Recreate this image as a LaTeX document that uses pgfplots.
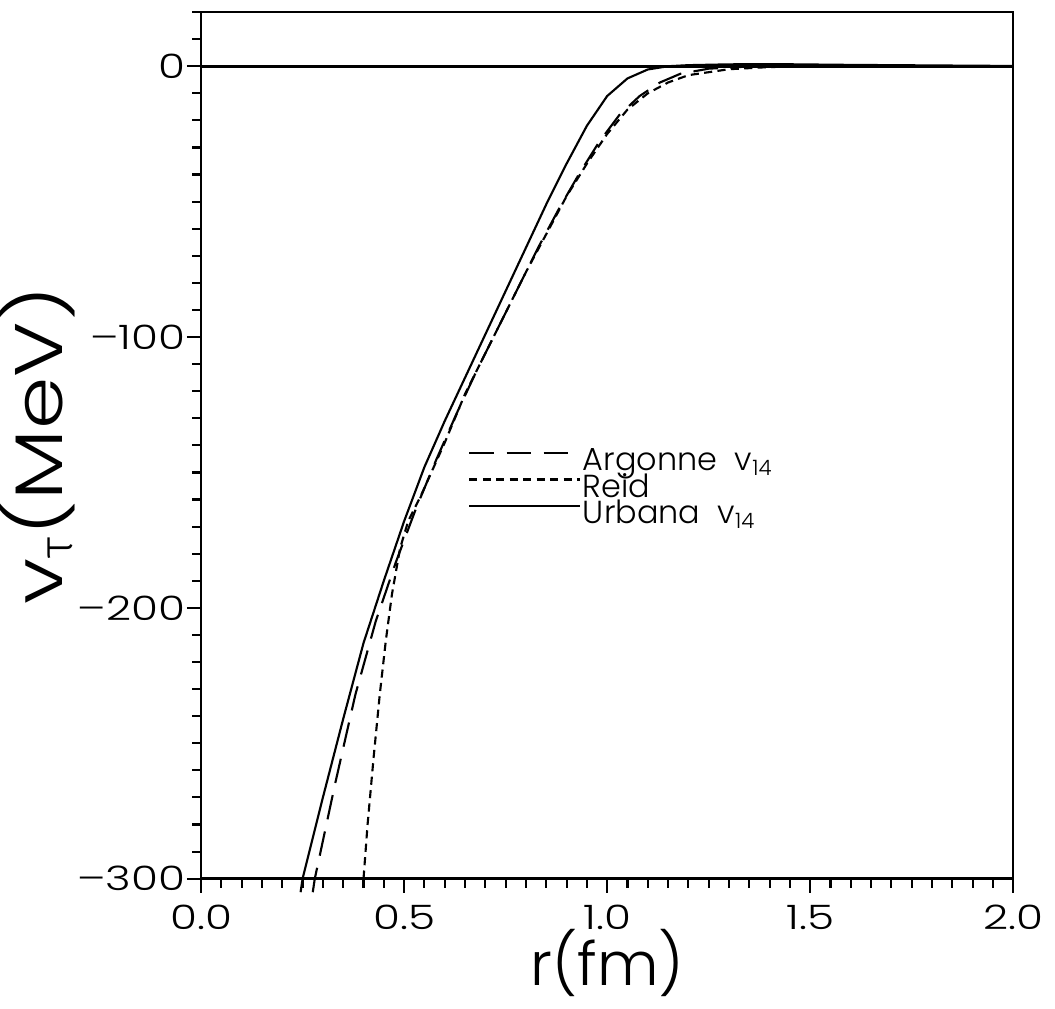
\documentclass[border=0pt]{standalone}
\usepackage{fontspec}
\setmainfont{Poppins}[UprightFont=* Light]
\newfontfamily\tickfont{Poppins}[UprightFont=* Light, FakeStretch=1.3]
\newfontfamily\labfont{Poppins}[UprightFont=* Light, FakeStretch=1.25]
\newfontfamily\greek{Fira Sans}[UprightFont=* Light]
\usepackage{pgfplots}
\pgfplotsset{compat=1.18}

\begin{document}
\begin{tikzpicture}
\begin{axis}[
  scale only axis,
  width=80.6mm, height=86mm,
  xmin=0, xmax=2, ymin=-300, ymax=20,
  clip=false,
  axis line style={line width=0.7pt},
  xtick={0,0.5,1,1.5,2}, xticklabels={0.0,0.5,1.0,1.5,2.0},
  ytick={-300,-200,-100,0}, yticklabels={–300,–200,–100,0},
  minor xtick={0.05,0.1,...,1.96},
  minor ytick={-290,-280,...,20},
  xtick align=outside, ytick align=outside,
  xtick pos=bottom, ytick pos=left,
  major tick length=1.4mm, minor tick length=0.9mm,
  every tick/.style={line width=0.6pt, black},
  tick label style={font=\tickfont\fontsize{9.5}{11}\selectfont},
  yticklabel style={xshift=3pt},
  xlabel={r(fm)}, ylabel={v\textsubscript{\greek τ}(MeV)},
  xlabel style={font=\fontsize{17}{19}\selectfont, yshift=7pt},
  ylabel style={font=\labfont\fontsize{19}{21}\selectfont, inner sep=0pt, yshift=-3pt},
  legend style={draw=none, fill=none, at={(axis cs:0.63,-138)}, anchor=north west,
    font=\fontsize{9}{10}\selectfont, row sep=0pt,
    nodes={inner sep=0.5pt, text height=6pt, text depth=0.5pt}},
  legend cell align=left,
  legend image code/.code={\draw[#1] (0mm,0.8mm) -- (11mm,0.8mm);},
]
% zero line
\addplot[line width=0.8pt, forget plot] coordinates {(0,0) (2,0)};

% Argonne v14
\addplot[line width=0.6pt, dash pattern=on 7pt off 3.5pt] coordinates {
  (0.275,-305) (0.28,-300) (0.33,-265) (0.38,-232) (0.43,-205) (0.48,-183)
  (0.53,-163) (0.58,-145) (0.63,-128) (0.68,-112) (0.73,-97) (0.78,-82)
  (0.83,-67) (0.88,-53) (0.93,-40) (0.98,-28) (1.03,-18) (1.08,-11)
  (1.13,-6) (1.18,-2.8) (1.25,-0.9) (1.35,-0.1) (1.5,0) (2.0,0)
};
\addlegendentry{Argonne\ \ v\textsubscript{14}}

% Reid
\addplot[line width=0.6pt, dash pattern=on 2.3pt off 1.5pt] coordinates {
  (0.400,-300) (0.41,-280) (0.425,-255) (0.44,-232) (0.455,-212) (0.47,-195)
  (0.49,-178) (0.51,-168) (0.54,-159) (0.57,-149) (0.60,-139) (0.65,-121)
  (0.70,-106) (0.75,-91) (0.80,-76) (0.85,-62) (0.90,-48) (0.95,-36)
  (1.00,-25) (1.05,-16) (1.10,-10) (1.15,-6) (1.2,-3.3) (1.3,-1.1) (1.4,-0.3)
  (1.5,0) (2.0,0)
};
\addlegendentry{Reid}

% Urbana v14
\addplot[line width=0.6pt] coordinates {
  (0.245,-305) (0.25,-300) (0.30,-270) (0.35,-241) (0.40,-213) (0.45,-190)
  (0.50,-168) (0.55,-148) (0.60,-131) (0.65,-115) (0.70,-99) (0.75,-83)
  (0.80,-67) (0.85,-51) (0.90,-36) (0.95,-22) (1.00,-11) (1.05,-4.5)
  (1.10,-1.2) (1.15,0) (1.20,0.4) (1.30,0.7) (1.40,0.8) (1.60,0.5) (2.00,0.1)
};
\addlegendentry{Urbana\ \ v\textsubscript{14}}
\end{axis}
% a little room above the frame
\path ([yshift=1.2mm]current axis.north west);
\end{tikzpicture}
\end{document}
